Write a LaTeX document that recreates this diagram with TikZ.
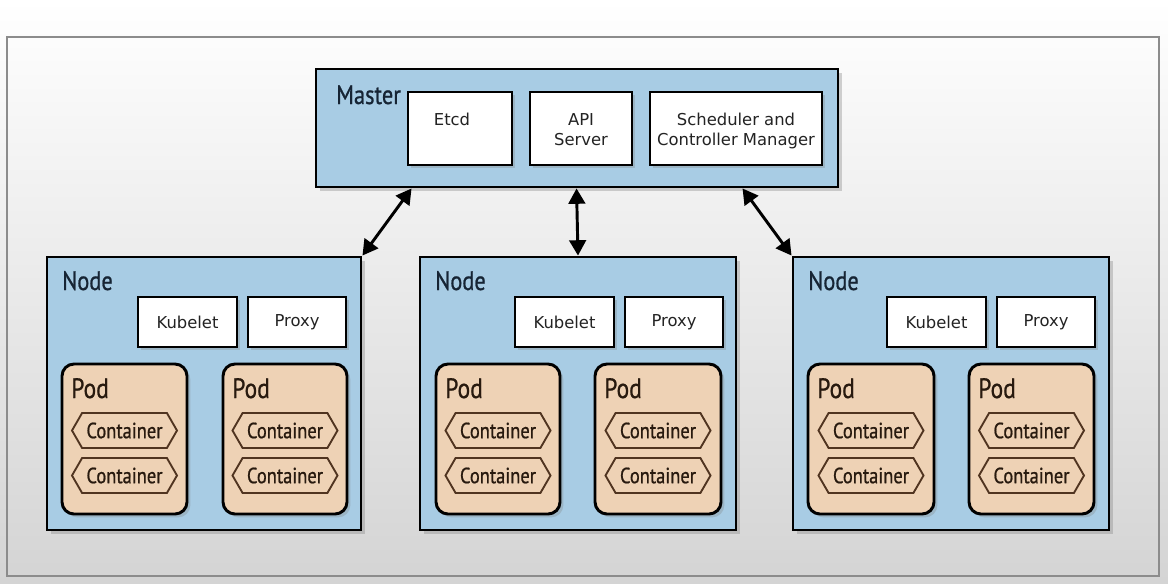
\documentclass[tikz,border=0pt]{standalone}
\usepackage{fontspec}
\setmainfont{DejaVu Sans}
\newfontfamily\cond[FakeStretch=0.84, FakeBold=0.8]{PT Sans}
\usetikzlibrary{shapes.symbols,shadows,arrows.meta,calc}

\definecolor{nodeblue}{RGB}{168,204,228}
\definecolor{podtan}{RGB}{238,210,181}
\definecolor{hexline}{RGB}{80,52,32}
\definecolor{labelink}{RGB}{22,36,52}
\definecolor{podink}{RGB}{40,26,15}
\definecolor{boxink}{RGB}{35,35,35}
\definecolor{bgbot}{RGB}{212,212,212}
\definecolor{bgmid}{RGB}{246,246,246}

\newcommand\mkbox[6]{\node[#1, minimum width={(#4-#2)*0.75pt}, minimum height={(#5-#3)*0.75pt}] (#6) at ({(#2+#4)/2},{(#3+#5)/2}) {};}

\tikzset{
  bluebox/.style={draw=black, line width=2.2pt, fill=nodeblue, inner sep=0pt,
    drop shadow={shadow xshift=3pt, shadow yshift=-3pt, opacity=0.35}},
  whitebox/.style={draw=black, line width=1.8pt, fill=white, inner sep=0pt,
    drop shadow={shadow xshift=2.5pt, shadow yshift=-2.5pt, opacity=0.3}},
  podbox/.style={draw=black, line width=2.2pt, fill=podtan, inner sep=0pt, rounded corners=9pt,
    drop shadow={shadow xshift=2.5pt, shadow yshift=-2.5pt, opacity=0.3}},
  boxtext/.style={font=\fontsize{12.3}{15}\selectfont, text=boxink, inner sep=0pt, align=center},
  biglabel/.style={font=\cond\fontsize{20}{20}\selectfont, text=labelink, inner sep=0pt, anchor=base west},
  podlabel/.style={font=\cond\fontsize{21}{21}\selectfont, text=podink, inner sep=0pt, anchor=base west},
  ctr/.style={shape=signal, signal to=west and east, signal pointer angle=120,
    draw=hexline, line width=1.4pt, fill=podtan, inner sep=0pt,
    minimum width=78.75pt, minimum height=26.25pt,
    font=\cond\fontsize{16.5}{16.5}\selectfont, text=podink},
  conn/.style={line width=2.2pt, {Triangle[length=11.5pt,width=12.5pt]}-{Triangle[length=11.5pt,width=12.5pt]}}
}

\begin{document}
\begin{tikzpicture}[x=0.75pt, y=-0.75pt]
\useasboundingbox (0,0) rectangle (1168,583);
\shade[top color=white, middle color=bgmid, bottom color=bgbot] (0,0) rectangle (1168,583);
\draw[black!45, line width=0.8pt] (7,37) rectangle (1159,576);

% Master
\mkbox{bluebox}{316}{69}{838}{187}{master}
\node[biglabel] (masterl) at (336,104) {Master};
\mkbox{whitebox}{408}{92}{512}{165}{etcd}
\mkbox{whitebox}{530}{92}{632}{165}{api}
\mkbox{whitebox}{650}{92}{822}{165}{sched}
\node[boxtext, anchor=north] (etcdt) at (452,113) {Etcd};
\node[boxtext, anchor=north] (apit) at (581,113) {API\\Server};
\node[boxtext, anchor=north] (schedt) at (736,113) {Scheduler and\\Controller Manager};

% Worker nodes
\foreach \n/\xl/\xr/\kl/\pl in {n1/47/361/138/248, n2/420/736/515/625, n3/793/1109/887/997}{
  \mkbox{bluebox}{\xl}{257}{\xr}{530}{\n}
  \node[biglabel] (\n-l) at ({\xl+15},290) {Node};
  \node[whitebox, boxtext, minimum width=74.25pt, minimum height=37.5pt] (\n-k) at ({\kl+49.5},322) {Kubelet};
  \node[whitebox, boxtext, minimum width=73.5pt, minimum height=37.5pt] (\n-p) at ({\pl+49},322) {Proxy};
}

% Pods
\foreach \n/\a/\b in {p11/62/187, p12/223/347, p21/436/560, p22/595/721, p31/808/934, p32/969/1094}{
  \mkbox{podbox}{\a}{364}{\b}{514}{\n}
  \node[podlabel] (\n-l) at ({\a+9},398) {Pod};
  \node[ctr] (\n-c1) at ({(\a+\b)/2},430.5) {Container};
  \node[ctr] (\n-c2) at ({(\a+\b)/2},475.5) {Container};
}

% Connectors
\coordinate (m1) at ($(master.south west)+(97,0)$);
\coordinate (m2) at ($(master.south west)+(262,0)$);
\coordinate (m3) at ($(master.south west)+(428,0)$);
\draw[conn] (m1) -- (n1.north east);
\draw[conn] (m2) -- (n2.north);
\draw[conn] (m3) -- (n3.north west);
\end{tikzpicture}
\end{document}
